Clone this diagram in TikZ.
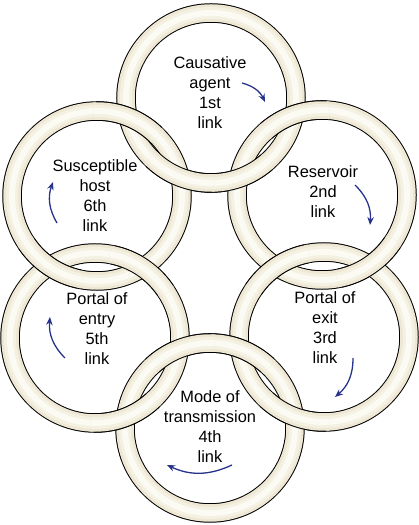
\documentclass[tikz,border=0pt]{standalone}
\usepackage{fontspec}
\setmainfont{Liberation Sans}
\usepackage{tikz}
\usepackage{xcolor}
\usetikzlibrary{arrows.meta}

\definecolor{ringedge}{RGB}{237,231,211}
\definecolor{ringmid}{RGB}{244,241,227}
\definecolor{ringlight}{RGB}{251,250,243}
\definecolor{linkblue}{RGB}{40,52,140}

\begin{document}
\begin{tikzpicture}[
            x=1pt, y=1pt,
            linktext/.style={align=center, font=\fontsize{16.4}{20}\selectfont},
            arrow/.style={-{Stealth[length=8pt,width=6.5pt]}, line width=1.3pt, linkblue, bend left=25}
        ]
            \useasboundingbox (0,0) rectangle (418,525);

            % Ring centres
            \coordinate (agent) at (211,427);
            \coordinate (reservoir) at (322,330);
            \coordinate (exit) at (324,188);
            \coordinate (mode) at (210,97);
            \coordinate (entry) at (95,187);
            \coordinate (host) at (97,329);

            % Whole rings
            \foreach \c in {agent,reservoir,exit,mode,entry,host}
                \foreach \w/\col in {19.5/black,17.5/ringedge,12/ringmid,6/ringlight}
                    \draw[line width=\w pt, color=\col] (\c) circle[radius=85];

            % Where a ring passes over its neighbour
            \foreach \c/\a in {agent/-71,agent/-111.5,reservoir/109,reservoir/-56,
                               exit/124,exit/-110.5,mode/69.5,mode/111,
                               entry/-69,entry/56,host/68.5,host/-124}
                \foreach \w/\col/\d in {19.5/black/22,17.5/ringedge/24,12/ringmid/24,6/ringlight/24}
                    \draw[line width=\w pt, color=\col] (\c) ++(\a-\d:85)
                        arc[start angle=\a-\d, end angle=\a+\d, radius=85];

            % Labels
            \node[linktext] (agenttext) at (210,432) {Causative\\agent\\1st\\link};
            \node[linktext] (reservoirtext) at (323,333) {Reservoir\\2nd\\link};
            \node[linktext] (exittext) at (325,197) {Portal of\\exit\\3rd\\link};
            \node[linktext] (modetext) at (210,98) {Mode of\\transmission\\4th\\link};
            \node[linktext] (entrytext) at (97,196) {Portal of\\entry\\5th\\link};
            \node[linktext] (hosttext) at (95,329) {Susceptible\\host\\6th\\link};

            % Arrows
            \coordinate (a1) at (242,442); \coordinate (b1) at (265,423);
            \coordinate (a2) at (355,340); \coordinate (b2) at (370,300);
            \coordinate (a3) at (353,167); \coordinate (b3) at (335,128);
            \coordinate (a4) at (232,60);  \coordinate (b4) at (167,60);
            \coordinate (a5) at (65,167);  \coordinate (b5) at (50,208);
            \coordinate (a6) at (57,302);  \coordinate (b6) at (53,343);
            \foreach \i in {1,...,6}
                \draw[arrow] (a\i) to (b\i);
        \end{tikzpicture}
\end{document}
